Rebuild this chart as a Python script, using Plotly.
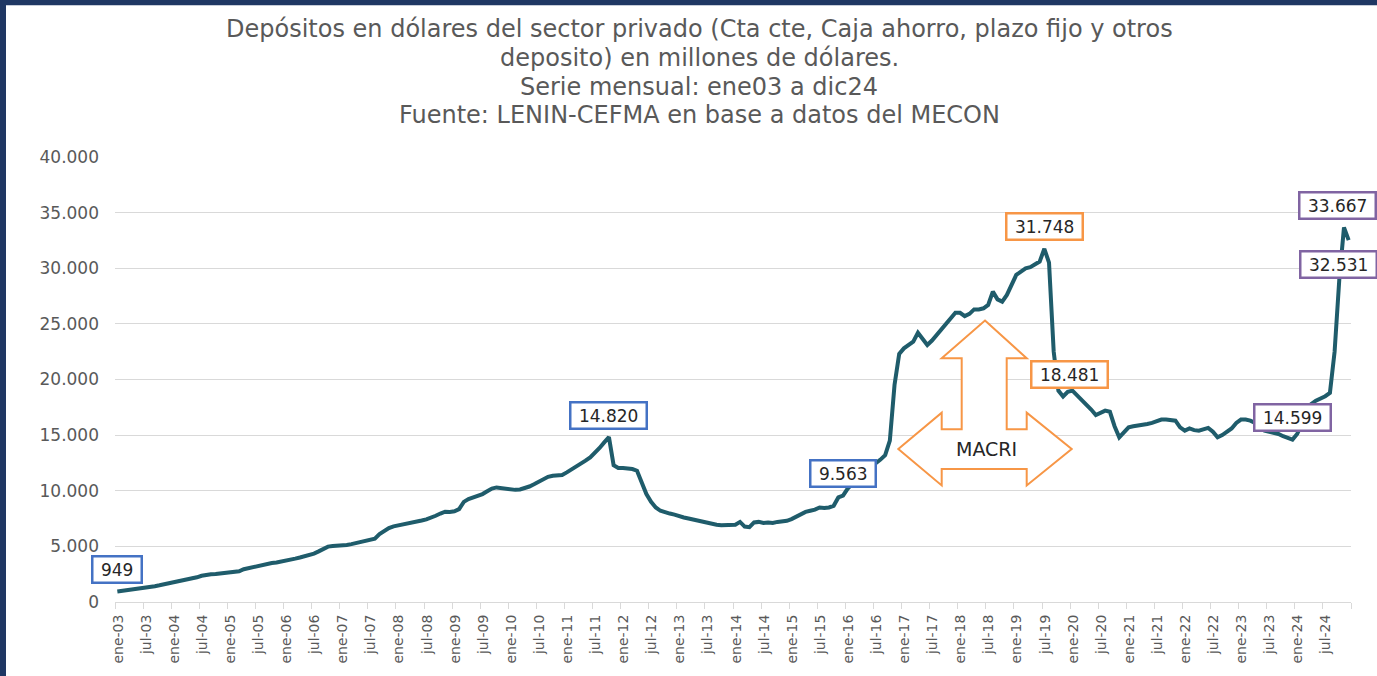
import plotly.graph_objects as go

# ---------------- data (millones de USD, mensual ene-03 .. dic-24) ----------------
y2003 = [949, 1000, 1060, 1120, 1160, 1210, 1270, 1340, 1420, 1500, 1580, 1680]
y2004 = [1800, 1900, 1980, 2010, 2080, 2220, 2360, 2450, 2490, 2520, 2560, 2600]
y2005 = [2630, 2690, 2760, 2950, 3050, 3150, 3250, 3380, 3460, 3500, 3550, 3620]
y2006 = [3700, 3800, 3900, 4000, 4100, 4200, 4350, 4550, 4800, 4980, 5030, 5050]
y2007 = [5080, 5120, 5200, 5300, 5420, 5550, 5600, 5700, 6100, 6400, 6650, 6800]
y2008 = [6880, 6950, 7000, 7100, 7200, 7320, 7420, 7550, 7750, 7950, 8120, 8100]
y2009 = [8150, 8350, 9000, 9250, 9400, 9550, 9700, 9950, 10200, 10300, 10250, 10150]
y2010 = [10100, 10080, 10120, 10220, 10380, 10580, 10800, 11050, 11250, 11350, 11350, 11420]
y2011 = [11650, 11900, 12100, 12380, 12700, 13000, 13400, 13850, 14350, 14820, 12300, 12050]
y2012 = [12050, 12000, 11950, 11800, 10800, 9700, 9000, 8500, 8200, 8050, 7950, 7850]
y2013 = [7700, 7600, 7500, 7400, 7300, 7200, 7100, 7000, 6950, 6900, 6900, 6920]
y2014 = [6950, 7200, 6780, 6720, 7150, 7200, 7100, 7150, 7100, 7200, 7250, 7300]
y2015 = [7450, 7650, 7930, 8100, 8200, 8300, 8500, 8450, 8500, 8650, 9400, 9563]
y2016 = [10200, 10700, 11100, 11500, 11800, 12100, 12400, 12800, 13200, 14500, 19500, 22300]
y2017 = [22800, 23100, 23400, 24200, 23600, 23100, 23500, 24000, 24450, 24900, 25400, 26000]
y2018 = [26000, 25700, 25900, 26300, 26300, 26400, 26700, 27900, 27200, 27000, 27600, 28500]
y2019 = [29400, 29700, 30000, 30100, 30350, 30600, 31748, 30500, 22500, 19000, 18481, 18900]
y2020 = [19000, 18600, 18100, 17800, 17300, 16800, 17000, 17200, 17100, 15800, 14800, 15200]
y2021 = [15700, 15800, 15850, 15900, 16000, 16100, 16250, 16400, 16400, 16350, 16300, 15700]
y2022 = [15400, 15600, 15450, 15400, 15500, 15650, 15300, 14800, 15000, 15300, 15600, 16100]
y2023 = [16400, 16400, 16300, 16100, 15600, 15400, 15300, 15200, 15100, 14900, 14700, 14599]
y2024 = [15100, 16000, 17100, 17800, 18100, 18300, 18500, 18800, 22500, 29000, 33667, 32531]

years = list(range(2003, 2025))
month_abbr = ["ene", "feb", "mar", "abr", "may", "jun", "jul", "ago", "sep", "oct", "nov", "dic"]

values = (y2003 + y2004 + y2005 + y2006 + y2007 + y2008 + y2009 + y2010 + y2011 + y2012
          + y2013 + y2014 + y2015 + y2016 + y2017 + y2018 + y2019 + y2020 + y2021 + y2022
          + y2023 + y2024)
categories = [f"{m}-{str(y)[2:]}" for y in years for m in month_abbr]
xidx = list(range(len(values)))

# labelled points: (category, colour, label side)
labelled = [
    ("ene-03", "#4472C4", "up"),
    ("oct-11", "#4472C4", "up"),
    ("dic-15", "#4472C4", "up"),
    ("jul-19", "#F79646", "up"),
    ("nov-19", "#F79646", "up"),
    ("dic-23", "#8064A2", "up"),
    ("nov-24", "#8064A2", "up"),
    ("dic-24", "#8064A2", "down"),
]
label_xshift = {"nov-19": 6, "nov-24": -6, "dic-24": -10}

title_lines = [
    "Depósitos en dólares del sector privado (Cta cte, Caja ahorro, plazo fijo y otros",
    "deposito) en millones de dólares.",
    "Serie mensual: ene03 a dic24",
    "Fuente: LENIN-CEFMA en base a datos del MECON",
]
title_line_px = [28, 57, 86, 115]

# ---------------- layout geometry ----------------
W, H = 1377, 676
ML, MR, MT, MB = 115, 26, 157, 70
PW, PH = W - ML - MR, H - MT - MB
FONT = "DejaVu Sans"
GRAY = "#595959"
NAVY = "#1F3763"
LINE = "#1F5C6B"


def px2paper(px, py):
    return (px - ML) / PW, (H - MB - py) / PH


fig = go.Figure()
fig.add_trace(go.Scatter(
    x=xidx, y=values, mode="lines",
    line=dict(color=LINE, width=4, shape="linear"),
    hoverinfo="skip", showlegend=False,
))

anns = []
# title, one annotation per line
for line, ypx in zip(title_lines, title_line_px):
    tx, ty = px2paper(699, ypx)
    anns.append(dict(x=tx, y=ty, xref="paper", yref="paper", text=line, showarrow=False,
                     xanchor="center", yanchor="middle",
                     font=dict(family=FONT, size=24, color=GRAY)))

# data labels
for cat, col, side in labelled:
    i = categories.index(cat)
    v = values[i]
    txt = f"{v:,}".replace(",", ".")
    anns.append(dict(
        x=i, y=v, xref="x", yref="y", text=f"&nbsp;{txt}&nbsp;", showarrow=False,
        xanchor="center", yanchor="middle",
        xshift=label_xshift.get(cat, 0), yshift=22 if side == "up" else -24,
        font=dict(family=FONT, size=17, color="#262626"),
        bgcolor="white", bordercolor=col, borderwidth=2.5, borderpad=2,
    ))

# MACRI arrow (left-right-up arrow), outline in pixel space
arrow_px = [(985, 322), (1026.7, 360), (1006.7, 360), (1006.7, 431.7), (1026.7, 431.7),
            (1026.7, 415), (1071.7, 451.7), (1026.7, 488.4), (1026.7, 471.7),
            (941.7, 471.7), (941.7, 488.4), (898.3, 451.7), (941.7, 415),
            (941.7, 431.7), (961.7, 431.7), (961.7, 360), (941.7, 360)]
pts = [px2paper(a, b) for a, b in arrow_px]
path = "M " + " L ".join(f"{a:.5f},{b:.5f}" for a, b in pts) + " Z"

mx, my = px2paper(987, 452)
anns.append(dict(x=mx, y=my, xref="paper", yref="paper", text="MACRI", showarrow=False,
                 xanchor="center", yanchor="middle",
                 font=dict(family=FONT, size=19, color="#262626")))

# white card over navy frame
fx0, fy1 = px2paper(6, 4)
fx1, fy0 = px2paper(W + 10, H + 10)
shapes = [
    dict(type="rect", xref="paper", yref="paper", x0=fx0, x1=fx1, y0=fy0, y1=fy1,
         fillcolor="white", line=dict(width=0), layer="below"),
    dict(type="path", xref="paper", yref="paper", path=path, fillcolor="white",
         line=dict(color="#F79646", width=2), layer="above"),
]

tickvals = [k - 0.5 for k in range(0, len(values) + 1, 6)]
ticktext = [categories[k] if k < len(categories) else "" for k in range(0, len(values) + 1, 6)]

fig.update_layout(
    width=W, height=H,
    margin=dict(l=ML, r=MR, t=MT, b=MB),
    paper_bgcolor=NAVY, plot_bgcolor="white",
    separators=",.",
    xaxis=dict(
        range=[-0.5, len(values) - 0.5],
        tickmode="array", tickvals=tickvals, ticktext=ticktext,
        tickangle=-90, ticks="outside", ticklen=6, tickcolor="#D9D9D9",
        ticklabelshift=3,
        showline=True, linecolor="#D9D9D9", linewidth=1,
        showgrid=False, zeroline=False,
        tickfont=dict(family=FONT, size=14, color=GRAY),
    ),
    yaxis=dict(
        range=[0, 40000], dtick=5000, tick0=0, tickformat=",d",
        showgrid=True, gridcolor="#D9D9D9", gridwidth=1,
        zeroline=False, showline=False, ticks="",
        ticklabelstandoff=15,
        tickfont=dict(family=FONT, size=17, color=GRAY),
    ),
    annotations=anns,
    shapes=shapes,
    showlegend=False,
)

fig.write_html(
    "out.html",
    config={"displayModeBar": False},
    post_script="document.body.style.margin='0';document.body.style.overflow='hidden';",
)
